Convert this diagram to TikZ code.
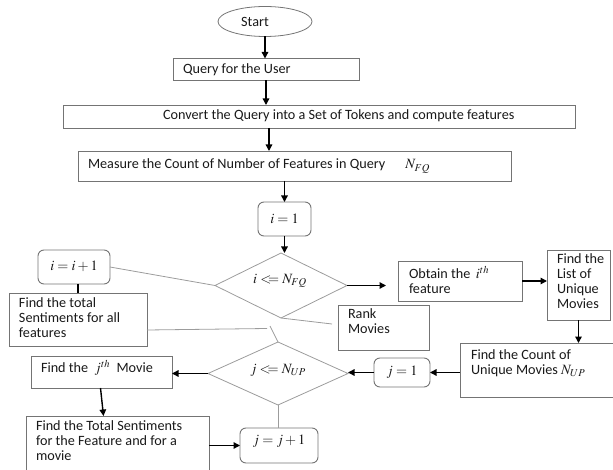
\documentclass[tikz,border=0pt]{standalone}
\usepackage{mathptmx}
\usepackage[no-math]{fontspec}
\setmainfont{Carlito}
\usetikzlibrary{arrows.meta,shapes.geometric}
\definecolor{edgegray}{HTML}{747474}
\definecolor{linegray}{HTML}{9C9C9C}
\begin{document}
\begin{tikzpicture}[x=1pt,y=-1pt,
  every node/.style={inner sep=0pt, outer sep=0pt},
  blk/.style={draw=edgegray, line width=0.9pt, rectangle},
  rbox/.style={draw=edgegray, line width=0.9pt, rectangle, rounded corners=6pt},
  dmd/.style={draw=linegray, line width=0.8pt, diamond},
  txt/.style={font=\fontsize{14.2}{15}\selectfont, align=left, anchor=west, text=black!90},
  ctxt/.style={font=\fontsize{14.2}{15}\selectfont, anchor=center, text=black!90},
  arr/.style={draw=black, line width=1.4pt, -{Triangle[length=6.5pt,width=6.5pt]}},
  link/.style={draw=linegray, line width=0.8pt},
]
\useasboundingbox (0,0) rectangle (613,470);
\clip (0,0) rectangle (613,470);

% shapes
\node[draw=edgegray, line width=0.8pt, ellipse, minimum width=94pt, minimum height=30pt] (start) at (265,21.5) {};
\node[blk, minimum width=186pt, minimum height=22pt] (query) at (266,69.5) {};
\node[blk, minimum width=512pt, minimum height=23pt] (convert) at (319,116.5) {};
\node[blk, minimum width=433pt, minimum height=30pt] (measure) at (294.5,166) {};
\node[rbox, minimum width=53pt, minimum height=34pt] (i1) at (284.5,219) {};
\node[dmd, minimum width=132pt, minimum height=65pt] (d1) at (281,285.5) {};
\node[rbox, minimum width=72pt, minimum height=34pt] (iinc) at (74,267) {};
\node[blk, minimum width=138pt, minimum height=53pt] (findtotal) at (78,319.5) {};
\node[blk, minimum width=124pt, minimum height=40pt] (obtain) at (460,281) {};
\node[blk, minimum width=63pt, minimum height=70pt] (findlist) at (578.5,285) {};
\node[blk, minimum width=91pt, minimum height=45pt] (rank) at (383.5,327.5) {};
\node[blk, minimum width=160pt, minimum height=54pt] (findcount) at (540,370) {};
\node[rbox, minimum width=56pt, minimum height=29pt] (j1) at (402,372.5) {};
\node[dmd, minimum width=140pt, minimum height=63pt] (d2) at (278,373.5) {};
\node[blk, minimum width=141pt, minimum height=32pt] (findj) at (101.5,372) {};
\node[blk, minimum width=183pt, minimum height=64pt] (totalsent) at (117.5,448) {};
\node[rbox, minimum width=78pt, minimum height=35pt] (jinc) at (279,445.5) {};

% texts
\node[ctxt] (tstart) at (255,22) {Start};
\node[txt] (tquery) at (183,70) {Query for the User};
\node[txt] (tconvert) at (163,116) {Convert the Query into a Set of Tokens and compute features};
\node[txt] (tmeasure) at (88,166) {Measure the Count of Number of Features in Query\hspace{20pt}$N_{FQ}$};
\node[ctxt] (ti1) at (284.5,219) {$i = 1$};
\node[ctxt] (tiinc) at (74,266) {$i = i +1$};
\node[txt] (tfindtotal) at (19,318) {Find the total\\Sentiments for all\\features};
\node[ctxt] (td1) at (280,281) {$i \mathrel{<\!\!=} N_{FQ}$};
\node[txt] (tobtain) at (409,280) {Obtain the \,$i^{th}$\\feature};
\node[txt] (tfindlist) at (557,281) {Find the\\List of\\Unique\\Movies};
\node[txt] (trank) at (348,321.5) {Rank\\Movies};
\node[txt] (tfindcount) at (471,363) {Find the Count of\\Unique Movies $N_{UP}$};
\node[ctxt] (tj1) at (402,372) {$j = 1$};
\node[ctxt] (td2) at (278,370) {$j \mathrel{<\!\!=} N_{UP}$};
\node[txt] (tfindj) at (41,368) {Find the \ $j^{th}$ \ Movie};
\node[txt] (ttotalsent) at (36,441) {Find the Total Sentiments\\for the Feature and for a\\movie};
\node[ctxt] (tjinc) at (279,441) {$j = j + 1$};

% free ends of the plain connectors
\coordinate (rk) at (332,324);
\coordinate (bendA) at (267,328.5);
\coordinate (bendB) at (270,326);

% arrows
\draw[arr] (start.south) -- (start.south |- query.north);
\draw[arr] (query.south) -- (query.south |- convert.north);
\draw[arr] ([xshift=-50pt]convert.south) -- ([xshift=-50pt]convert.south |- measure.north);
\draw[arr] (measure.south -| i1.north) -- (i1.north);
\draw[arr] (i1.south) -- (i1.south |- d1.north);
\draw[arr, shorten >=12pt] (d1.east) -- (d1.east -| obtain.west);
\draw[arr] (obtain.east) -- (obtain.east -| findlist.west);
\draw[arr] (findlist.south) -- (findlist.south |- findcount.north);
\draw[arr] (j1.east -| findcount.west) -- (j1.east);
\draw[arr] (j1.west) -- (j1.west -| d2.east);
\draw[arr] (d2.west) -- (d2.west -| findj.east);
\draw[arr] ([xshift=-1pt]findj.south) -- ([xshift=2pt]findj.south |- totalsent.north);
\draw[arr] (jinc.west -| totalsent.east) -- (jinc.west);

% plain connectors
\draw[link] (d1.west) -- (iinc.east);
\draw[line width=1.4pt] (iinc.south -| findtotal.north) -- (findtotal.north);
\draw[link] (d1.south) -- (rk);
\draw[link] ([yshift=-10.5pt]findtotal.east) -- (bendA);
\draw[link] (bendB) -- (d2.north);
\draw[link] (d2.south) -- (d2.south |- jinc.north);
\end{tikzpicture}
\end{document}
